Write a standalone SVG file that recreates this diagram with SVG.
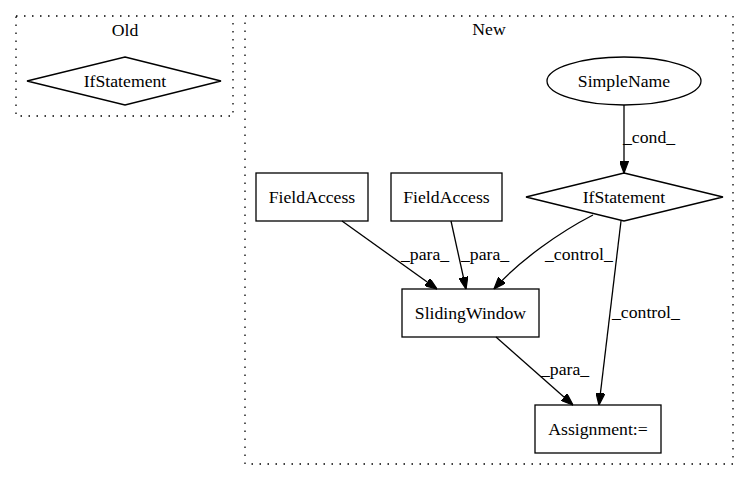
<svg xmlns="http://www.w3.org/2000/svg" width="749" height="480" viewBox="0 0 749 480">
<style>
text{font-family:"Liberation Serif","Times New Roman",serif;font-size:17.7px;fill:#000}
.c{text-anchor:middle}
.n{fill:#fff;stroke:#000;stroke-width:1.3}
.cl{fill:none;stroke:#000;stroke-width:1.3;stroke-dasharray:1.5,6.5}
.e{fill:none;stroke:#000;stroke-width:1.3}
</style>
<defs>
<marker id="a" viewBox="0 0 10 7" refX="10" refY="3.5" markerWidth="12" markerHeight="9" markerUnits="userSpaceOnUse" orient="auto" preserveAspectRatio="none">
<path d="M0,0 L10,3.5 L0,7 Z" fill="#000" stroke="#000"/>
</marker>
</defs>
<rect width="749" height="480" fill="#fff"/>
<g id="cluster_old">
<rect class="cl" x="16" y="16" width="217" height="100"/>
<text class="c" x="125" y="36">Old</text>
</g>
<g id="cluster_new">
<rect class="cl" x="245" y="16" width="488" height="448"/>
<text class="c" x="489" y="35">New</text>
</g>
<g id="old_ifstatement">
<polygon class="n" points="125,57 221,81 125,105 27,81"/>
<text class="c" x="125" y="86.5">IfStatement</text>
</g>
<g id="simplename">
<ellipse class="n" cx="624" cy="81" rx="77" ry="24"/>
<text class="c" x="624" y="86.5">SimpleName</text>
</g>
<g id="ifstatement">
<polygon class="n" points="624,173 723,197 624,221 526,197"/>
<text class="c" x="624" y="202.5">IfStatement</text>
</g>
<g id="fieldaccess1">
<rect class="n" x="256" y="173" width="112" height="48"/>
<text class="c" x="312" y="202.5">FieldAccess</text>
</g>
<g id="fieldaccess2">
<rect class="n" x="391" y="173" width="111" height="48"/>
<text class="c" x="446.5" y="202.5">FieldAccess</text>
</g>
<g id="slidingwindow">
<rect class="n" x="402" y="289" width="137" height="48"/>
<text class="c" x="470.5" y="318.5">SlidingWindow</text>
</g>
<g id="assignment">
<rect class="n" x="535" y="405" width="126" height="48"/>
<text class="c" x="598" y="434.5">Assignment:=</text>
</g>
<g id="connectors">
<path class="e" d="M624,105 L624,173" marker-end="url(#a)"/>
<text x="623" y="143">_cond_</text>
<path class="e" d="M342,221 L437,289" marker-end="url(#a)"/>
<text x="401" y="260">_para_</text>
<path class="e" d="M451,221 L466,289" marker-end="url(#a)"/>
<text x="461" y="260">_para_</text>
<path class="e" d="M593,215 C560,232 520,260 494,289" marker-end="url(#a)"/>
<text x="545" y="260">_control_</text>
<path class="e" d="M621,221 L599,405" marker-end="url(#a)"/>
<text x="612" y="318">_control_</text>
<path class="e" d="M496,337 L573,405" marker-end="url(#a)"/>
<text x="541" y="375">_para_</text>
</g>
</svg>
